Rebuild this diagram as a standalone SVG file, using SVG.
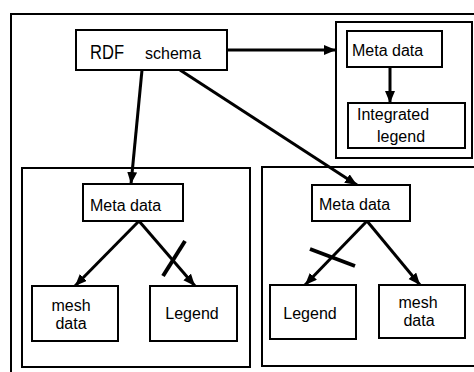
<svg xmlns="http://www.w3.org/2000/svg" width="474" height="372" viewBox="0 0 474 372">
<style>
.box{fill:#fff;stroke:#000;stroke-width:2}
.frame{fill:none;stroke:#000;stroke-width:2}
.t{font-family:"Liberation Sans",Arial,sans-serif;font-size:16px;fill:#000}
.arr{stroke:#000;stroke-width:3;fill:none;marker-end:url(#ah)}
.x{stroke:#000;stroke-width:4;fill:none}
</style>
<defs>
<marker id="ah" markerUnits="userSpaceOnUse" markerWidth="13" markerHeight="12" refX="12" refY="5" orient="auto">
<path d="M0,0 L12,5 L0,10 z" fill="#000"/>
</marker>
</defs>
<rect width="474" height="372" fill="#fff"/>
<rect class="frame" x="11" y="14" width="470" height="370"/>
<g id="frame-top-right"><rect class="frame" x="336" y="22" width="136" height="136"/></g>
<g id="frame-bottom-left"><rect class="frame" x="22" y="168" width="228" height="199"/></g>
<g id="frame-bottom-right"><rect class="frame" x="262" y="167" width="220" height="199"/></g>

<g id="connectors">
<path class="arr" d="M227,50 L336,50"/>
<path class="arr" d="M390,67 L390,103"/>
<path class="arr" d="M142,70 L131,184"/>
<path class="arr" d="M180,70 L357,185"/>
<path class="arr" d="M139,221 L75,286"/>
<path class="arr" d="M139,221 L195,286"/>
<path class="arr" d="M367,221 L305,285"/>
<path class="arr" d="M367,221 L420,285"/>
<path class="x" d="M163,276 L185,241"/>
<path class="x" d="M310,249 L355,266"/>
</g>

<g id="rdf"><rect class="box" x="76" y="30" width="151" height="40"/>
<text class="t" x="90" y="59" style="font-size:21px" textLength="34" lengthAdjust="spacingAndGlyphs">RDF</text>
<text class="t" x="145" y="59">schema</text></g>
<g id="meta-top"><rect class="box" x="347" y="31" width="95" height="36"/>
<text class="t" x="352" y="56">Meta data</text></g>
<g id="integrated"><rect class="box" x="348" y="103" width="117" height="45"/>
<text class="t" x="357" y="120">Integrated</text>
<text class="t" x="377" y="142">legend</text></g>
<g id="meta-left"><rect class="box" x="83" y="184" width="100" height="37"/>
<text class="t" x="90" y="211">Meta data</text></g>
<g id="mesh-left"><rect class="box" x="32" y="286" width="86" height="55"/>
<text class="t" x="71" y="311" text-anchor="middle">mesh</text>
<text class="t" x="71" y="329" text-anchor="middle">data</text></g>
<g id="legend-left"><rect class="box" x="150" y="286" width="87" height="55"/>
<text class="t" x="192" y="319" text-anchor="middle">Legend</text></g>
<g id="meta-right"><rect class="box" x="312" y="185" width="98" height="36"/>
<text class="t" x="319" y="210">Meta data</text></g>
<g id="legend-right"><rect class="box" x="270" y="285" width="86" height="54"/>
<text class="t" x="310" y="319" text-anchor="middle">Legend</text></g>
<g id="mesh-right"><rect class="box" x="379" y="285" width="86" height="53"/>
<text class="t" x="418" y="308" text-anchor="middle">mesh</text>
<text class="t" x="419" y="326" text-anchor="middle">data</text></g>
</svg>
